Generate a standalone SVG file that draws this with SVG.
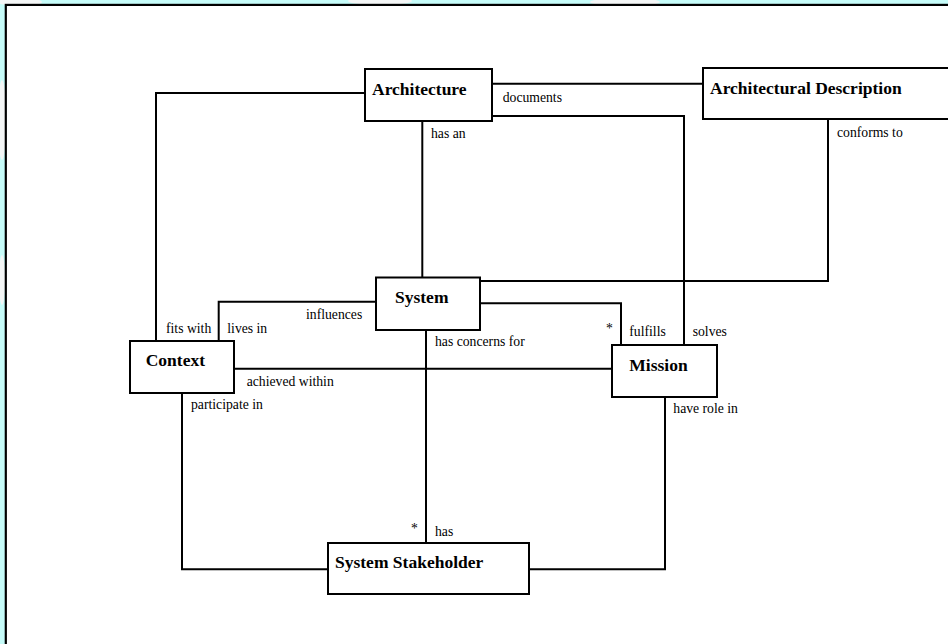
<svg xmlns="http://www.w3.org/2000/svg" width="948" height="644" viewBox="0 0 948 644">
<style>
.node rect{fill:#fff;stroke:#000;stroke-width:2}
.nt{font-family:"Liberation Serif","Times New Roman",serif;font-weight:bold;font-size:17.5px;fill:#000}
.lb{font-family:"Liberation Serif","Times New Roman",serif;font-size:13.7px;fill:#000}
#connectors path{fill:none;stroke:#000;stroke-width:2}
</style>
<rect x="0" y="0" width="948" height="644" fill="#c6fcf9"/>
<g fill="#f4f6f6">
<ellipse cx="20" cy="2" rx="22" ry="4"/>
<ellipse cx="380" cy="1" rx="32" ry="4"/>
<ellipse cx="625" cy="2" rx="35" ry="4"/>
<ellipse cx="2" cy="120" rx="4" ry="40"/>
<ellipse cx="2" cy="280" rx="3" ry="25"/>
</g>
<rect x="5.8" y="4.9" width="960" height="660" fill="#fff" stroke="#000" stroke-width="2.2"/>
<g id="connectors">
<path d="M156,341 V93 H365"/>
<path d="M492,83.7 H703"/>
<path d="M492,116 H684 V345"/>
<path d="M422.3,121 V277.5"/>
<path d="M828,119 V281 H480"/>
<path d="M218.7,341 V301.7 H376"/>
<path d="M480,303.3 H621 V345"/>
<path d="M234,368.7 H612"/>
<path d="M426,330 V543"/>
<path d="M182,393 V569.3 H328"/>
<path d="M665,397 V569.3 H529"/>
</g>
<g id="labels">
<text class="lb" x="502.7" y="102">documents</text>
<text class="lb" x="431" y="138">has an</text>
<text class="lb" x="837" y="136.7">conforms to</text>
<text class="lb" x="166" y="333.3">fits with</text>
<text class="lb" x="227.3" y="333.3">lives in</text>
<text class="lb" x="306" y="319.3">influences</text>
<text class="lb" x="435" y="346">has concerns for</text>
<text class="lb" x="246.7" y="386">achieved within</text>
<text class="lb" x="191" y="409.3">participate in</text>
<text class="lb" x="606" y="333">*</text>
<text class="lb" x="629.3" y="336">fulfills</text>
<text class="lb" x="692.7" y="336">solves</text>
<text class="lb" x="673.3" y="413.3">have role in</text>
<text class="lb" x="411" y="533">*</text>
<text class="lb" x="435" y="535.7">has</text>
</g>
<g id="architecture" class="node"><rect x="365" y="69" width="127" height="52"/><text class="nt" x="372" y="95">Architecture</text></g>
<g id="architectural-description" class="node"><rect x="703" y="68" width="260" height="51"/><text class="nt" x="710" y="94.3">Architectural Description</text></g>
<g id="system" class="node"><rect x="376" y="277.5" width="104" height="52.5"/><text class="nt" x="395" y="303.3">System</text></g>
<g id="context" class="node"><rect x="130" y="341" width="104" height="52"/><text class="nt" x="145.7" y="366">Context</text></g>
<g id="mission" class="node"><rect x="612" y="345" width="105" height="52"/><text class="nt" x="629.3" y="370.7">Mission</text></g>
<g id="system-stakeholder" class="node"><rect x="328" y="543" width="201" height="51"/><text class="nt" x="335" y="568.3">System Stakeholder</text></g>
</svg>
